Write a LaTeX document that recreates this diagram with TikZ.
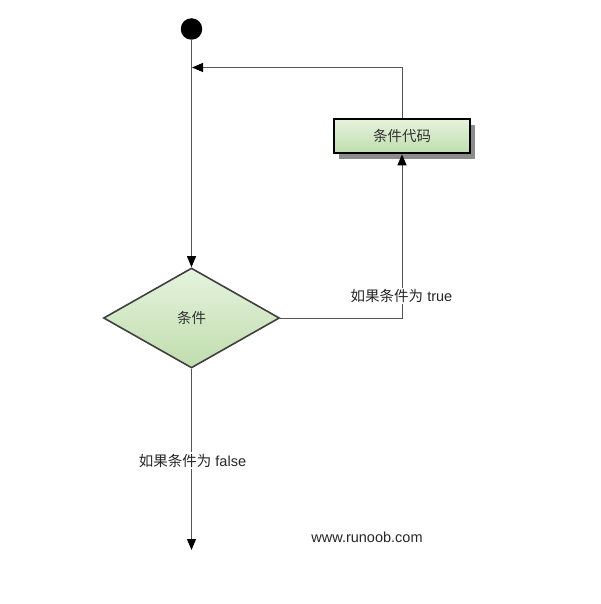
\documentclass[tikz,border=0pt]{standalone}
\usepackage{fontspec}
\setmainfont{Liberation Sans}
\newfontfamily\cjk{Noto Sans CJK SC}
\usetikzlibrary{arrows.meta,positioning,shapes.geometric,shadows,calc}
\definecolor{flowtop}{HTML}{E6F3DE}
\definecolor{flowbot}{HTML}{C0DDAD}
\definecolor{flowline}{HTML}{555555}
\tikzset{
  startdot/.style={circle, fill=black, minimum size=21.5pt, inner sep=0pt},
  decision/.style={diamond, draw=black!75, line width=1.6pt, top color=flowtop,
                   bottom color=flowbot, minimum width=176pt, minimum height=100pt,
                   inner sep=0pt, font=\fontsize{14.5}{17}\selectfont, text=black!80},
  process/.style ={rectangle, draw=black, line width=2.6pt, top color=flowtop,
                   bottom color=flowbot, minimum width=136pt, minimum height=34pt,
                   font=\fontsize{14.5}{17}\selectfont, text=black!80,
                   drop shadow={shadow xshift=5pt, shadow yshift=-6pt, fill=black!45, opacity=1}},
  lbl/.style     ={fill=white, inner sep=1.5pt, font=\fontsize{14.5}{17}\selectfont, text=black!85},
  ar/.style      ={draw=flowline, line width=1pt,
                   -{Triangle[length=11pt, width=9pt, color=black, fill=black]}},
}
\begin{document}
\begin{tikzpicture}[x=1pt,y=-1pt]
\useasboundingbox (0,0) rectangle (601,604);
\node[startdot] (start) at (191.5,29) {};
\node[decision] (cond) at (191.5,318) {\cjk 条件};
\node[process] (code) at (402,136) {\cjk 条件代码};
\coordinate (back) at (192,67.5);
\coordinate (end) at (191.5,550);

\draw[ar] (start) -- (cond.north);
\draw[ar] (code.north) |- (back);
\draw[ar] (cond.east) -| (code.south);
\draw[ar] (cond.south) -- (end);

\node[lbl] (truelbl) at (401.5,296) {{\cjk 如果条件为} true};
\node[lbl] (falselbl) at (192.5,460.5) {{\cjk 如果条件为} false};
\node[lbl] (site) at (367,537) {www.runoob.com};
\end{tikzpicture}
\end{document}
